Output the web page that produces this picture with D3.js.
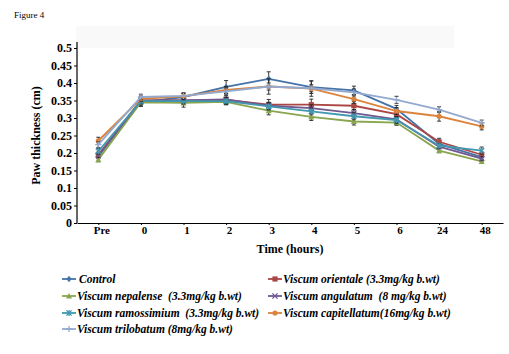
<!DOCTYPE html>
<html>
<head>
<meta charset="utf-8">
<script src="https://d3js.org/d3.v7.min.js"></script>
<style>
  body { margin: 0; background: #fff; }
  svg { display: block; font-family: "Liberation Serif", "Times New Roman", serif; }
</style>
</head>
<body>
<script>
const categories = ['Pre', '0', '1', '2', '3', '4', '5', '6', '24', '48'];

const seriesNames = [
  'Control',
  'Viscum orientale (3.3mg/kg b.wt)',
  'Viscum nepalense  (3.3mg/kg b.wt)',
  'Viscum angulatum  (8 mg/kg b.wt)',
  'Viscum ramossimium  (3.3mg/kg b.wt)',
  'Viscum capitellatum(16mg/kg b.wt)',
  'Viscum trilobatum (8mg/kg b.wt)'
];

const control      = [0.190, 0.345, 0.360, 0.389, 0.412, 0.388, 0.379, 0.326, 0.226, 0.188];
const orientale    = [0.195, 0.350, 0.350, 0.352, 0.338, 0.338, 0.335, 0.311, 0.232, 0.195];
const nepalense    = [0.181, 0.345, 0.343, 0.346, 0.321, 0.303, 0.290, 0.287, 0.207, 0.176];
const angulatum    = [0.193, 0.350, 0.350, 0.353, 0.335, 0.328, 0.314, 0.296, 0.218, 0.184];
const ramossimium  = [0.205, 0.348, 0.348, 0.348, 0.333, 0.319, 0.305, 0.294, 0.221, 0.207];
const capitellatum = [0.235, 0.355, 0.362, 0.380, 0.390, 0.384, 0.354, 0.320, 0.305, 0.276];
const trilobatum   = [0.224, 0.360, 0.363, 0.376, 0.390, 0.385, 0.373, 0.352, 0.324, 0.286];

const controlErr      = [0.006, 0.010, 0.010, 0.018, 0.020, 0.018, 0.012, 0.010, 0.008, 0.008];
const orientaleErr    = [0.008, 0.010, 0.008, 0.008, 0.015, 0.016, 0.012, 0.010, 0.010, 0.008];
const nepalenseErr    = [0.006, 0.012, 0.012, 0.008, 0.012, 0.010, 0.010, 0.008, 0.006, 0.006];
const angulatumErr    = [0.006, 0.008, 0.008, 0.012, 0.010, 0.010, 0.010, 0.008, 0.006, 0.006];
const ramossimiumErr  = [0.008, 0.008, 0.008, 0.010, 0.010, 0.010, 0.010, 0.010, 0.006, 0.010];
const capitellatumErr = [0.010, 0.008, 0.010, 0.010, 0.022, 0.022, 0.012, 0.010, 0.014, 0.010];
const trilobatumErr   = [0.008, 0.008, 0.008, 0.010, 0.010, 0.010, 0.010, 0.010, 0.008, 0.008];

const colors = ['#4572A7', '#AA4643', '#89A54E', '#71588F', '#4198AF', '#DB843D', '#93A9CF'];
const markers = ['diamond', 'square', 'triangle', 'cross', 'star', 'circle', 'plus'];

const series = [control, orientale, nepalense, angulatum, ramossimium, capitellatum, trilobatum]
  .map((values, i) => ({
    name: seriesNames[i],
    values,
    err: [controlErr, orientaleErr, nepalenseErr, angulatumErr, ramossimiumErr, capitellatumErr, trilobatumErr][i],
    color: colors[i],
    marker: markers[i]
  }));

const width = 509, height = 354;
const svg = d3.select('body').append('svg')
  .attr('width', width).attr('height', height);

svg.append('text').attr('x', 14).attr('y', 18)
  .attr('font-size', 9).text('Figure 4');

// faint scan smudge behind the top of the plot
svg.append('rect').attr('x', 76).attr('y', 26).attr('width', 378).attr('height', 22)
  .attr('fill', '#faf9fa');

const x = d3.scalePoint().domain(categories).range([77, 503]).padding(0.5);
const y = d3.scaleLinear().domain([0, 0.5]).range([223, 48]);

const yAxis = svg.append('g').attr('transform', 'translate(77,0)')
  .call(d3.axisLeft(y).tickValues(d3.range(0, 0.501, 0.05)).tickSize(3).tickSizeOuter(0)
    .tickFormat(d => String(+d.toFixed(2))));
yAxis.attr('font-family', null);
yAxis.select('.domain').attr('d', 'M0,' + y(0) + 'V42').attr('stroke', '#000').attr('stroke-width', 1.2);
yAxis.selectAll('text').attr('font-size', 12).attr('font-weight', 'bold').attr('x', -5);

const xAxis = svg.append('g').attr('transform', 'translate(0,' + y(0) + ')')
  .call(d3.axisBottom(x).tickSize(2).tickSizeOuter(0));
xAxis.attr('font-family', null);
xAxis.select('.domain').attr('stroke-width', 1.2);
xAxis.selectAll('text').attr('font-size', 11).attr('font-weight', 'bold')
  .attr('y', 3).attr('dy', '0.71em').attr('dx', 3);

svg.append('text').attr('x', 290).attr('y', 253).attr('text-anchor', 'middle')
  .attr('font-size', 12).attr('font-weight', 'bold').text('Time (hours)');

svg.append('text').attr('transform', 'translate(40,' + y(0.25) + ') rotate(-90)')
  .attr('text-anchor', 'middle').attr('font-size', 12).attr('font-weight', 'bold')
  .text('Paw thickness (cm)');

const line = d3.line().x((d, i) => x(categories[i])).y(d => y(d));

function drawMarker(g, type, color, cx, cy) {
  const s = 2.6;
  if (type === 'diamond') {
    g.append('path').attr('d', `M${cx},${cy - s - 0.6}L${cx + s},${cy}L${cx},${cy + s + 0.6}L${cx - s},${cy}Z`).attr('fill', color);
  } else if (type === 'square') {
    g.append('rect').attr('x', cx - s).attr('y', cy - s).attr('width', 2 * s).attr('height', 2 * s).attr('fill', color);
  } else if (type === 'triangle') {
    g.append('path').attr('d', `M${cx},${cy - s - 0.5}L${cx + s + 0.4},${cy + s}L${cx - s - 0.4},${cy + s}Z`).attr('fill', color);
  } else if (type === 'circle') {
    g.append('circle').attr('cx', cx).attr('cy', cy).attr('r', s).attr('fill', color);
  } else {
    let d = `M${cx - s},${cy - s}L${cx + s},${cy + s}M${cx - s},${cy + s}L${cx + s},${cy - s}`;
    if (type === 'star') d += `M${cx},${cy - s - 0.5}V${cy + s + 0.5}`;
    if (type === 'plus') d = `M${cx - s - 0.5},${cy}H${cx + s + 0.5}M${cx},${cy - s - 0.5}V${cy + s + 0.5}`;
    g.append('path').attr('d', d).attr('stroke', color).attr('stroke-width', 1.3).attr('fill', 'none');
  }
}

series.forEach(s => {
  const g = svg.append('g');
  // error bars
  s.values.forEach((v, i) => {
    const cx = x(categories[i]);
    const e = s.err[i];
    g.append('path')
      .attr('d', `M${cx},${y(v - e)}V${y(v + e)}M${cx - 2},${y(v - e)}H${cx + 2}M${cx - 2},${y(v + e)}H${cx + 2}`)
      .attr('stroke', '#222').attr('stroke-width', 0.9).attr('fill', 'none');
  });
  g.append('path').datum(s.values).attr('d', line)
    .attr('fill', 'none').attr('stroke', s.color).attr('stroke-width', 1.8);
  s.values.forEach((v, i) => drawMarker(g, s.marker, s.color, x(categories[i]), y(v)));
});

// legend
const legendPos = [[62, 279], [268, 279], [62, 296], [268, 296], [62, 313], [268, 313], [62, 329]];
series.forEach((s, i) => {
  const [lx, ly] = legendPos[i];
  const g = svg.append('g');
  g.append('line').attr('x1', lx).attr('x2', lx + 14).attr('y1', ly).attr('y2', ly)
    .attr('stroke', s.color).attr('stroke-width', 1.8);
  drawMarker(g, s.marker, s.color, lx + 7, ly);
  g.append('text').attr('x', i === 0 ? lx + 17 : lx + 15).attr('y', ly + 4)
    .attr('font-size', 11.5).attr('font-weight', 'bold').attr('font-style', 'italic')
    .style('white-space', 'pre')
    .text(s.name);
});
</script>
</body>
</html>
